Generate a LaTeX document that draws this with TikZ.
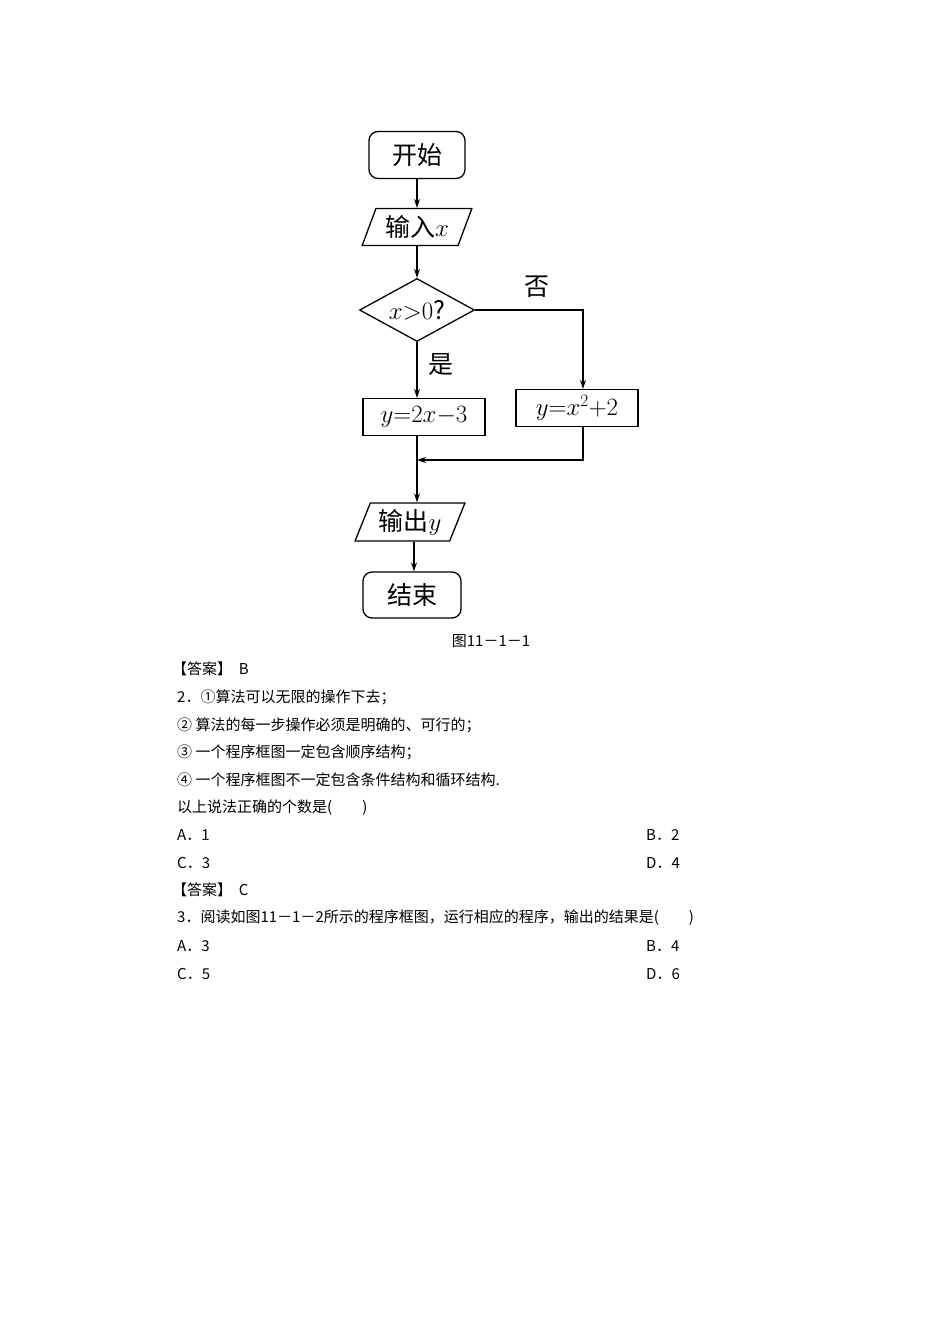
\documentclass[tikz,border=0pt]{standalone}
\usepackage{fontspec}
\newfontfamily\cjk{Noto Sans CJK SC}
\usetikzlibrary{shapes.geometric,arrows.meta}
\begin{document}
\begin{tikzpicture}[x=1pt,y=-1pt,
  fc/.style={font=\cjk\fontsize{25}{25}\selectfont, line width=1.3pt, inner sep=0pt},
  body/.style={font=\cjk\fontsize{15}{15}\selectfont, anchor=west, inner sep=0pt},
  arr/.style={line width=1.2pt,-{Stealth[length=9pt,width=6pt]}},
  ln/.style={line width=1.2pt}]
\useasboundingbox (0,0) rectangle (950,1344);
\node[fc,draw,rounded corners=9pt,minimum width=96pt,minimum height=47pt] (start) at (417,155) {开始};
\node[fc,draw,trapezium,trapezium left angle=65,trapezium right angle=115,minimum width=110pt,minimum height=37pt,trapezium stretches=true] (in) at (417,227) {输入$x$};
\node[fc,draw,diamond,aspect=1.85,minimum width=115pt,minimum height=63pt] (dec) at (417,310) {$x{>}0$?};
\node[fc,draw,minimum width=122pt,minimum height=37pt] (p1) at (424,417) {$y{=}2x{-}3$};
\node[fc,draw,minimum width=122pt,minimum height=37pt] (p2) at (577,408) {$y{=}x^2{+}2$};
\node[fc,draw,trapezium,trapezium left angle=65,trapezium right angle=115,minimum width=110pt,minimum height=38pt,trapezium stretches=true] (out) at (410,522) {输出$y$};
\node[fc,draw,rounded corners=9pt,minimum width=98pt,minimum height=46pt] (end) at (412,595) {结束};
\node[fc] (no) at (537,287) {否};
\node[fc] (yes) at (441,365) {是};
\coordinate (m) at (417,460);
\draw[arr] (start.south -| 417,0) -- (in.north -| 417,0);
\draw[arr] (in.south -| 417,0) -- (dec.north);
\draw[arr] (dec.south) -- (p1.north -| 417,0);
\draw[arr] (dec.east) -| (p2.north -| 583,0);
\draw[ln] (p1.south -| 417,0) -- (m);
\draw[arr] (p2.south -| 583,0) |- (m);
\draw[arr] (m) -- (out.north -| 417,0);
\draw[arr] (out.south -| 414,0) -- (end.north -| 414,0);
\node[font=\cjk\fontsize{15}{15}\selectfont,inner sep=0pt] (cap) at (491,641) {图11－1－1};
\node[body] (t1) at (172,669) {【答案】\ \ B};
\node[body] (t2) at (177,697) {2．①算法可以无限的操作下去；};
\node[body] (t3) at (177,725) {② 算法的每一步操作必须是明确的、可行的；};
\node[body] (t4) at (177,752) {③ 一个程序框图一定包含顺序结构；};
\node[body] (t5) at (177,780) {④ 一个程序框图不一定包含条件结构和循环结构.};
\node[body] (t6) at (177,808) {以上说法正确的个数是(\qquad)};
\node[body] (a1) at (177,835) {A．1};
\node[body] (b1) at (646,835) {B．2};
\node[body] (c1) at (177,863) {C．3};
\node[body] (d1) at (646,863) {D．4};
\node[body] (t7) at (172,890) {【答案】\ \ C};
\node[body] (t8) at (177,918) {3．阅读如图11－1－2所示的程序框图，运行相应的程序，输出的结果是(\qquad)};
\node[body] (a2) at (177,946) {A．3};
\node[body] (b2) at (646,946) {B．4};
\node[body] (c2) at (177,974) {C．5};
\node[body] (d2) at (646,974) {D．6};
\end{tikzpicture}
\end{document}
